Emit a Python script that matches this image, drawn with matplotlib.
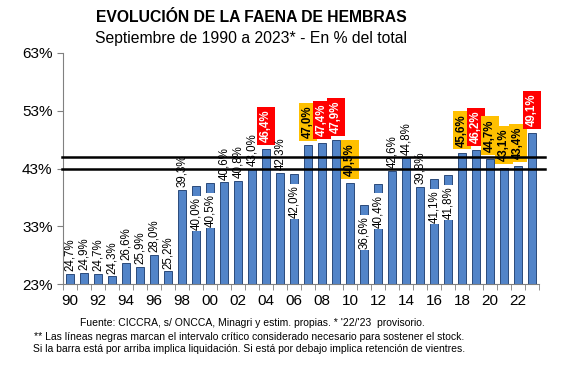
import matplotlib
matplotlib.use("Agg")
import matplotlib.pyplot as plt
import numpy as np

plt.rcParams['font.family'] = ['Liberation Sans', 'DejaVu Sans']

years = list(range(1990, 2024))
values = [24.7, 24.9, 24.7, 24.3, 26.6, 25.9, 28.0, 25.2, 39.3, 40.0,
          40.5, 40.6, 40.8, 43.0, 46.4, 42.3, 42.0, 47.0, 47.4, 47.9,
          40.5, 36.6, 40.4, 42.6, 44.8, 39.8, 41.1, 41.8, 45.6, 46.2,
          44.7, 43.1, 43.4, 49.1]
# label style per bar: 'out' above bar, 'in' inside with white box, 'red', 'orange'
label_style = ['out'] * 9 + ['in', 'in', 'out', 'out', 'out', 'red', 'out', 'in',
               'orange', 'red', 'red', 'orange', 'in', 'in', 'out', 'out', 'out',
               'in', 'in', 'orange', 'red', 'orange', 'orange', 'orange', 'red']
critical_lines = [43, 45]
yticks = [23, 33, 43, 53, 63]

fig = plt.figure(figsize=(5.77, 3.76), dpi=100)
ax = fig.add_axes([63/577, 1-284/376, (539-63)/577, (284-53)/376])

x = np.arange(len(years))
ax.bar(x, values, width=0.57, color='#5284C8', edgecolor='#2B4A7A', linewidth=0.7, zorder=2)

for i, (v, st) in enumerate(zip(values, label_style)):
    txt = f"{v:.1f}%".replace('.', ',')
    if st == 'out':
        ax.annotate(txt, (i, v), xytext=(0, 2), textcoords='offset points',
                    rotation=90, ha='center', va='bottom', fontsize=8.3, zorder=3)
    elif st == 'in':
        ax.annotate(txt, (i, v), xytext=(0, -8), textcoords='offset points',
                    rotation=90, ha='center', va='top', fontsize=8.3, zorder=3,
                    bbox=dict(boxstyle='square,pad=0.1', fc='white', ec='none'))
    else:
        fc = '#FF0000' if st == 'red' else '#FFC000'
        tc = 'white' if st == 'red' else 'black'
        ax.annotate(txt, (i, v), xytext=(0, 5), textcoords='offset points',
                    rotation=90, ha='center', va='bottom', fontsize=8.3, zorder=3,
                    color=tc, fontweight='bold',
                    bbox=dict(boxstyle='square,pad=0.25', fc=fc, ec='none'))

for lv in critical_lines:
    ax.plot([-0.55, 33.95], [lv, lv], color='black', lw=1.8, zorder=5, clip_on=False)

ax.set_xlim(-0.5, 33.5)
ax.set_ylim(23, 63)
ax.set_yticks(yticks)
ax.set_yticklabels([f"{t}%" for t in yticks], fontsize=11)
ax.set_xticks(x[::2])
ax.set_xticklabels([f"{y % 100:02d}" for y in years[::2]], fontsize=11)
ax.set_xticks(np.arange(-0.5, 34, 1), minor=True)
ax.tick_params(axis='x', which='major', length=0, pad=7)
ax.tick_params(axis='x', which='minor', length=4, color='#808080')
ax.tick_params(axis='y', length=4, color='#808080')
for s in ['top', 'right']:
    ax.spines[s].set_visible(False)
for s in ['left', 'bottom']:
    ax.spines[s].set_color('#808080')

fig.text(251/577, 1-18/376, "EVOLUCIÓN DE LA FAENA DE HEMBRAS", ha='center', va='center',
         fontsize=11.3, fontweight='bold')
fig.text(251/577, 1-39/376, "Septiembre de 1990 a 2023* - En % del total", ha='center',
         va='center', fontsize=11.3)

fig.text(252/577, 1-323/376, "Fuente: CICCRA, s/ ONCCA, Minagri y estim. propias. * '22/'23  provisorio.",
         ha='center', va='center', fontsize=7.5)
fig.text(249/577, 1-337/376, "** Las líneas negras marcan el intervalo crítico considerado necesario para sostener el stock.",
         ha='center', va='center', fontsize=7.5)
fig.text(249/577, 1-349/376, "Si la barra está por arriba implica liquidación. Si está por debajo implica retención de vientres.",
         ha='center', va='center', fontsize=7.5)

fig.savefig("out.png", dpi=100)
